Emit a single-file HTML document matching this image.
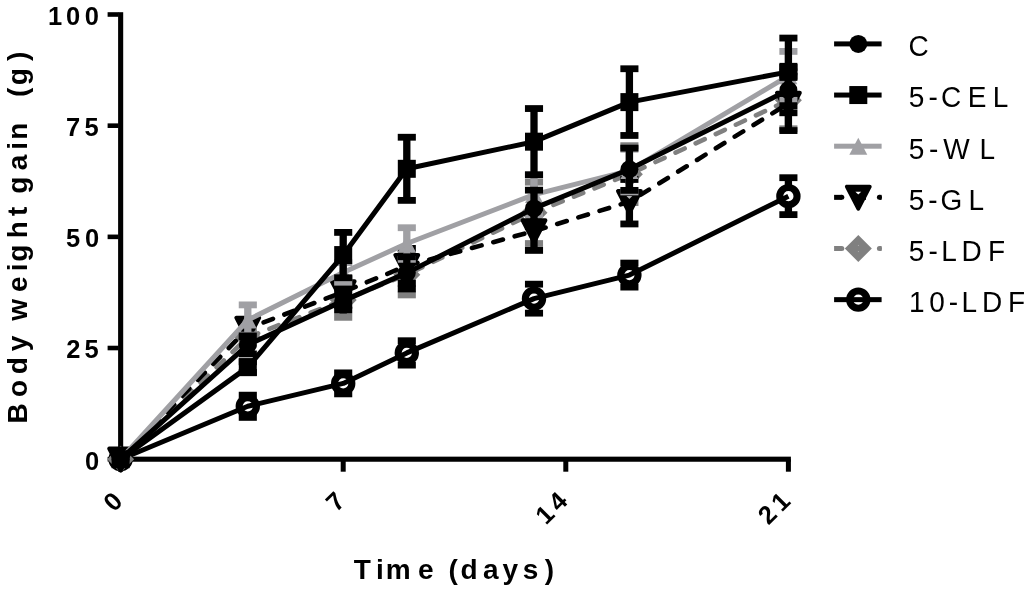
<!DOCTYPE html><html><head><meta charset="utf-8"><title>Body weight gain</title><style>html,body{margin:0;padding:0;background:#fff;overflow:hidden}svg{display:block}</style></head><body><svg width="1024" height="589" viewBox="0 0 1024 589"><rect width="1024" height="589" fill="#fff"/><rect x="118.1" y="12.2" width="5.1" height="449.55" fill="#000"/><rect x="118.1" y="456.65" width="672.8" height="5.1" fill="#000"/><rect x="107.6" y="456.9" width="11" height="4.6" fill="#000"/><rect x="107.6" y="345.72" width="11" height="4.6" fill="#000"/><rect x="107.6" y="234.55" width="11" height="4.6" fill="#000"/><rect x="107.6" y="123.38" width="11" height="4.6" fill="#000"/><rect x="107.6" y="12.2" width="11" height="4.6" fill="#000"/><rect x="118.1" y="459.2" width="5" height="12.5" fill="#000"/><rect x="340.7" y="459.2" width="5" height="12.5" fill="#000"/><rect x="563.3" y="459.2" width="5" height="12.5" fill="#000"/><rect x="785.9" y="459.2" width="5" height="12.5" fill="#000"/><g><rect x="244.15" y="395.16" width="7.3" height="22.23" fill="#000"/><rect x="238.75" y="391.76" width="18.1" height="6.8" fill="#000"/><rect x="238.75" y="414" width="18.1" height="6.8" fill="#000"/><rect x="339.55" y="372.88" width="7.3" height="20.99" fill="#000"/><rect x="334.15" y="369.48" width="18.1" height="6.8" fill="#000"/><rect x="334.15" y="390.47" width="18.1" height="6.8" fill="#000"/><rect x="403.15" y="340.73" width="7.3" height="24.37" fill="#000"/><rect x="397.75" y="337.33" width="18.1" height="6.8" fill="#000"/><rect x="397.75" y="361.7" width="18.1" height="6.8" fill="#000"/><rect x="530.35" y="284.17" width="7.3" height="28.99" fill="#000"/><rect x="524.95" y="280.77" width="18.1" height="6.8" fill="#000"/><rect x="524.95" y="309.76" width="18.1" height="6.8" fill="#000"/><rect x="625.75" y="263.09" width="7.3" height="24.01" fill="#000"/><rect x="620.35" y="259.69" width="18.1" height="6.8" fill="#000"/><rect x="620.35" y="283.7" width="18.1" height="6.8" fill="#000"/><rect x="784.75" y="177.7" width="7.3" height="36.91" fill="#000"/><rect x="779.35" y="174.3" width="18.1" height="6.8" fill="#000"/><rect x="779.35" y="211.22" width="18.1" height="6.8" fill="#000"/><circle cx="120.6" cy="459.2" r="8.65" fill="#fff" stroke="#000" stroke-width="7.1"/><circle cx="247.8" cy="406.28" r="8.65" fill="#fff" stroke="#000" stroke-width="7.1"/><circle cx="343.2" cy="383.38" r="8.65" fill="#fff" stroke="#000" stroke-width="7.1"/><circle cx="406.8" cy="352.92" r="8.65" fill="#fff" stroke="#000" stroke-width="7.1"/><circle cx="534" cy="298.66" r="8.65" fill="#fff" stroke="#000" stroke-width="7.1"/><circle cx="629.4" cy="275.09" r="8.65" fill="#fff" stroke="#000" stroke-width="7.1"/><circle cx="788.4" cy="196.16" r="8.65" fill="#fff" stroke="#000" stroke-width="7.1"/><polyline points="120.6,459.2 247.8,406.28 343.2,383.38 406.8,352.92 534,298.66 629.4,275.09 788.4,196.16" fill="none" stroke="#000" stroke-width="5.0" stroke-linejoin="round"/></g><g><rect x="244.15" y="330.68" width="7.3" height="13.34" fill="#808080"/><rect x="238.75" y="327.28" width="18.1" height="6.8" fill="#808080"/><rect x="238.75" y="340.62" width="18.1" height="6.8" fill="#808080"/><rect x="339.55" y="282.65" width="7.3" height="34.69" fill="#808080"/><rect x="334.15" y="279.25" width="18.1" height="6.8" fill="#808080"/><rect x="334.15" y="313.94" width="18.1" height="6.8" fill="#808080"/><rect x="403.15" y="254.37" width="7.3" height="40.56" fill="#808080"/><rect x="397.75" y="250.97" width="18.1" height="6.8" fill="#808080"/><rect x="397.75" y="291.53" width="18.1" height="6.8" fill="#808080"/><rect x="530.35" y="182.15" width="7.3" height="61.37" fill="#808080"/><rect x="524.95" y="178.75" width="18.1" height="6.8" fill="#808080"/><rect x="524.95" y="240.12" width="18.1" height="6.8" fill="#808080"/><rect x="625.75" y="145.69" width="7.3" height="56.92" fill="#808080"/><rect x="620.35" y="142.29" width="18.1" height="6.8" fill="#808080"/><rect x="620.35" y="199.21" width="18.1" height="6.8" fill="#808080"/><rect x="784.75" y="71.87" width="7.3" height="56.92" fill="#808080"/><rect x="779.35" y="68.47" width="18.1" height="6.8" fill="#808080"/><rect x="779.35" y="125.39" width="18.1" height="6.8" fill="#808080"/><path d="M107.1 459.2L120.6 445.7L134.1 459.2L120.6 472.7Z" fill="#808080"/><path d="M119.4 459.2L120.6 455.4L121.8 459.2L120.6 463Z" fill="#fff" fill-opacity="0.6"/><path d="M234.3 337.35L247.8 323.85L261.3 337.35L247.8 350.85Z" fill="#808080"/><path d="M246.6 337.35L247.8 333.55L249 337.35L247.8 341.15Z" fill="#fff" fill-opacity="0.6"/><path d="M329.7 300L343.2 286.5L356.7 300L343.2 313.5Z" fill="#808080"/><path d="M342 300L343.2 296.2L344.4 300L343.2 303.8Z" fill="#fff" fill-opacity="0.6"/><path d="M393.3 274.65L406.8 261.15L420.3 274.65L406.8 288.15Z" fill="#808080"/><path d="M405.6 274.65L406.8 270.85L408 274.65L406.8 278.45Z" fill="#fff" fill-opacity="0.6"/><path d="M520.5 212.84L534 199.34L547.5 212.84L534 226.34Z" fill="#808080"/><path d="M532.8 212.84L534 209.04L535.2 212.84L534 216.64Z" fill="#fff" fill-opacity="0.6"/><path d="M615.9 174.15L629.4 160.65L642.9 174.15L629.4 187.65Z" fill="#808080"/><path d="M628.2 174.15L629.4 170.35L630.6 174.15L629.4 177.95Z" fill="#fff" fill-opacity="0.6"/><path d="M774.9 100.33L788.4 86.83L801.9 100.33L788.4 113.83Z" fill="#808080"/><path d="M787.2 100.33L788.4 96.53L789.6 100.33L788.4 104.13Z" fill="#fff" fill-opacity="0.6"/><polyline points="120.6,459.2 247.8,337.35 343.2,300 406.8,274.65 534,212.84 629.4,174.15 788.4,100.33" fill="none" stroke="#808080" stroke-width="4.6" stroke-linejoin="round" stroke-dasharray="10 12.15" stroke-linecap="round"/></g><g><rect x="244.15" y="320.01" width="7.3" height="16.9" fill="#000"/><rect x="238.75" y="316.61" width="18.1" height="6.8" fill="#000"/><rect x="238.75" y="333.51" width="18.1" height="6.8" fill="#000"/><rect x="339.55" y="278.65" width="7.3" height="26.68" fill="#000"/><rect x="334.15" y="275.25" width="18.1" height="6.8" fill="#000"/><rect x="334.15" y="301.93" width="18.1" height="6.8" fill="#000"/><rect x="403.15" y="248.41" width="7.3" height="34.69" fill="#000"/><rect x="397.75" y="245.01" width="18.1" height="6.8" fill="#000"/><rect x="397.75" y="279.7" width="18.1" height="6.8" fill="#000"/><rect x="530.35" y="211.72" width="7.3" height="38.69" fill="#000"/><rect x="524.95" y="208.32" width="18.1" height="6.8" fill="#000"/><rect x="524.95" y="247.01" width="18.1" height="6.8" fill="#000"/><rect x="625.75" y="179.48" width="7.3" height="44.47" fill="#000"/><rect x="620.35" y="176.08" width="18.1" height="6.8" fill="#000"/><rect x="620.35" y="220.55" width="18.1" height="6.8" fill="#000"/><rect x="784.75" y="76.31" width="7.3" height="54.25" fill="#000"/><rect x="779.35" y="72.91" width="18.1" height="6.8" fill="#000"/><rect x="779.35" y="127.17" width="18.1" height="6.8" fill="#000"/><path d="M109.2 448.5L132 448.5L120.6 470.5Z" fill="#000" stroke="#000" stroke-width="4" stroke-linejoin="round"/><path d="M236.4 317.76L259.2 317.76L247.8 339.76Z" fill="#000" stroke="#000" stroke-width="4" stroke-linejoin="round"/><path d="M331.8 281.29L354.6 281.29L343.2 303.29Z" fill="#000" stroke="#000" stroke-width="4" stroke-linejoin="round"/><path d="M395.4 255.06L418.2 255.06L406.8 277.06Z" fill="#000" stroke="#000" stroke-width="4" stroke-linejoin="round"/><path d="M522.6 220.37L545.4 220.37L534 242.37Z" fill="#000" stroke="#000" stroke-width="4" stroke-linejoin="round"/><path d="M531.1 225.47L536.9 225.47L534 228.27Z" fill="#8c8c8c"/><path d="M618 191.02L640.8 191.02L629.4 213.02Z" fill="#000" stroke="#000" stroke-width="4" stroke-linejoin="round"/><path d="M626.5 196.12L632.3 196.12L629.4 198.92Z" fill="#b4b4b6"/><path d="M777 92.74L799.8 92.74L788.4 114.74Z" fill="#000" stroke="#000" stroke-width="4" stroke-linejoin="round"/><polyline points="120.6,459.2 247.8,328.46 343.2,291.99 406.8,265.76 534,231.07 629.4,201.72 788.4,103.44" fill="none" stroke="#000" stroke-width="4.6" stroke-linejoin="round" stroke-dasharray="10 12.15" stroke-linecap="round"/></g><g><rect x="244.15" y="304.89" width="7.3" height="30.24" fill="#a0a0a4"/><rect x="238.75" y="301.49" width="18.1" height="6.8" fill="#a0a0a4"/><rect x="238.75" y="331.73" width="18.1" height="6.8" fill="#a0a0a4"/><rect x="339.55" y="262.64" width="7.3" height="19.57" fill="#a0a0a4"/><rect x="334.15" y="259.24" width="18.1" height="6.8" fill="#a0a0a4"/><rect x="334.15" y="278.81" width="18.1" height="6.8" fill="#a0a0a4"/><rect x="403.15" y="227.73" width="7.3" height="31.57" fill="#a0a0a4"/><rect x="397.75" y="224.33" width="18.1" height="6.8" fill="#a0a0a4"/><rect x="397.75" y="255.91" width="18.1" height="6.8" fill="#a0a0a4"/><rect x="530.35" y="174.59" width="7.3" height="40.02" fill="#a0a0a4"/><rect x="524.95" y="171.19" width="18.1" height="6.8" fill="#a0a0a4"/><rect x="524.95" y="211.22" width="18.1" height="6.8" fill="#a0a0a4"/><rect x="625.75" y="149.24" width="7.3" height="42.69" fill="#a0a0a4"/><rect x="620.35" y="145.84" width="18.1" height="6.8" fill="#a0a0a4"/><rect x="620.35" y="188.54" width="18.1" height="6.8" fill="#a0a0a4"/><rect x="784.75" y="51.41" width="7.3" height="48.92" fill="#a0a0a4"/><rect x="779.35" y="48.01" width="18.1" height="6.8" fill="#a0a0a4"/><rect x="779.35" y="96.93" width="18.1" height="6.8" fill="#a0a0a4"/><path d="M111.6 467.7L129.6 467.7L120.6 450.7Z" fill="#a0a0a4"/><path d="M238.8 328.51L256.8 328.51L247.8 311.51Z" fill="#a0a0a4"/><path d="M334.2 280.93L352.2 280.93L343.2 263.93Z" fill="#a0a0a4"/><path d="M397.8 252.02L415.8 252.02L406.8 235.02Z" fill="#a0a0a4"/><path d="M525 203.1L543 203.1L534 186.1Z" fill="#a0a0a4"/><path d="M620.4 179.09L638.4 179.09L629.4 162.09Z" fill="#a0a0a4"/><path d="M779.4 84.37L797.4 84.37L788.4 67.37Z" fill="#a0a0a4"/><polyline points="120.6,459.2 247.8,320.01 343.2,272.43 406.8,243.52 534,194.6 629.4,170.59 788.4,75.87" fill="none" stroke="#a0a0a4" stroke-width="5.0" stroke-linejoin="round"/></g><g><rect x="244.15" y="361.81" width="7.3" height="10.67" fill="#000"/><rect x="238.75" y="358.41" width="18.1" height="6.8" fill="#000"/><rect x="238.75" y="369.08" width="18.1" height="6.8" fill="#000"/><rect x="339.55" y="232.4" width="7.3" height="45.36" fill="#000"/><rect x="334.15" y="229" width="18.1" height="6.8" fill="#000"/><rect x="334.15" y="274.36" width="18.1" height="6.8" fill="#000"/><rect x="403.15" y="137.24" width="7.3" height="63.15" fill="#000"/><rect x="397.75" y="133.84" width="18.1" height="6.8" fill="#000"/><rect x="397.75" y="196.98" width="18.1" height="6.8" fill="#000"/><rect x="530.35" y="108.55" width="7.3" height="66.26" fill="#000"/><rect x="524.95" y="105.15" width="18.1" height="6.8" fill="#000"/><rect x="524.95" y="171.41" width="18.1" height="6.8" fill="#000"/><rect x="625.75" y="68.75" width="7.3" height="66.7" fill="#000"/><rect x="620.35" y="65.35" width="18.1" height="6.8" fill="#000"/><rect x="620.35" y="132.06" width="18.1" height="6.8" fill="#000"/><rect x="784.75" y="38.07" width="7.3" height="67.59" fill="#000"/><rect x="779.35" y="34.67" width="18.1" height="6.8" fill="#000"/><rect x="779.35" y="102.26" width="18.1" height="6.8" fill="#000"/><rect x="111.6" y="450.2" width="18" height="18" fill="#000"/><rect x="238.8" y="358.15" width="18" height="18" fill="#000"/><rect x="334.2" y="246.08" width="18" height="18" fill="#000"/><rect x="397.8" y="159.81" width="18" height="18" fill="#000"/><rect x="525" y="132.68" width="18" height="18" fill="#000"/><rect x="620.4" y="93.11" width="18" height="18" fill="#000"/><rect x="779.4" y="62.87" width="18" height="18" fill="#000"/><polyline points="120.6,459.2 247.8,367.15 343.2,255.08 406.8,168.81 534,141.68 629.4,102.11 788.4,71.87" fill="none" stroke="#000" stroke-width="5.0" stroke-linejoin="round"/></g><g><rect x="244.15" y="335.88" width="7.3" height="18.05" fill="#000"/><rect x="238.75" y="332.48" width="18.1" height="6.8" fill="#000"/><rect x="238.75" y="350.54" width="18.1" height="6.8" fill="#000"/><rect x="339.55" y="291.59" width="7.3" height="18.59" fill="#000"/><rect x="334.15" y="288.19" width="18.1" height="6.8" fill="#000"/><rect x="334.15" y="306.78" width="18.1" height="6.8" fill="#000"/><rect x="403.15" y="256.77" width="7.3" height="32.2" fill="#000"/><rect x="397.75" y="253.37" width="18.1" height="6.8" fill="#000"/><rect x="397.75" y="285.57" width="18.1" height="6.8" fill="#000"/><rect x="530.35" y="190.16" width="7.3" height="36.47" fill="#000"/><rect x="524.95" y="186.76" width="18.1" height="6.8" fill="#000"/><rect x="524.95" y="223.22" width="18.1" height="6.8" fill="#000"/><rect x="625.75" y="148.13" width="7.3" height="42.25" fill="#000"/><rect x="620.35" y="144.73" width="18.1" height="6.8" fill="#000"/><rect x="620.35" y="186.98" width="18.1" height="6.8" fill="#000"/><rect x="784.75" y="67.42" width="7.3" height="45.36" fill="#000"/><rect x="779.35" y="64.02" width="18.1" height="6.8" fill="#000"/><rect x="779.35" y="109.38" width="18.1" height="6.8" fill="#000"/><circle cx="120.6" cy="459.2" r="9" fill="#000"/><circle cx="247.8" cy="344.91" r="9" fill="#000"/><circle cx="343.2" cy="300.89" r="9" fill="#000"/><circle cx="406.8" cy="272.87" r="9" fill="#000"/><circle cx="534" cy="208.39" r="9" fill="#000"/><circle cx="629.4" cy="169.26" r="9" fill="#000"/><circle cx="788.4" cy="90.1" r="9" fill="#000"/><polyline points="120.6,459.2 247.8,344.91 343.2,300.89 406.8,272.87 534,208.39 629.4,169.26 788.4,90.1" fill="none" stroke="#000" stroke-width="5.0" stroke-linejoin="round"/></g><circle cx="858.3" cy="43.9" r="9" fill="#000"/><rect x="834.1" y="41.4" width="47.5" height="5" fill="#000"/><rect x="849.3" y="86.05" width="18" height="18" fill="#000"/><rect x="834.1" y="92.55" width="47.5" height="5" fill="#000"/><path d="M849.3 154.7L867.3 154.7L858.3 137.7Z" fill="#a0a0a4"/><rect x="834.1" y="143.7" width="47.5" height="5" fill="#a0a0a4"/><path d="M846.9 186.65L869.7 186.65L858.3 208.65Z" fill="#000" stroke="#000" stroke-width="4" stroke-linejoin="round"/><path d="M855.4 191.75L861.2 191.75L858.3 194.55Z" fill="#fff"/><rect x="834.1" y="194.85" width="7.7" height="5" fill="#000"/><circle cx="841.8" cy="197.35" r="2.5" fill="#000"/><rect x="879.4" y="194.85" width="2.2" height="5" fill="#000"/><circle cx="879.4" cy="197.35" r="2.5" fill="#000"/><line x1="853" y1="197.35" x2="866" y2="197.35" stroke="#000" stroke-width="5"/><path d="M844.8 248.5L858.3 235L871.8 248.5L858.3 262Z" fill="#808080"/><path d="M857.1 248.5L858.3 244.7L859.5 248.5L858.3 252.3Z" fill="#fff" fill-opacity="0.6"/><rect x="834.1" y="246" width="7.7" height="5" fill="#808080"/><circle cx="841.8" cy="248.5" r="2.5" fill="#808080"/><rect x="879.4" y="246" width="2.2" height="5" fill="#808080"/><circle cx="879.4" cy="248.5" r="2.5" fill="#808080"/><line x1="853" y1="248.5" x2="866" y2="248.5" stroke="#808080" stroke-width="5"/><circle cx="858.3" cy="299.65" r="8.65" fill="#fff" stroke="#000" stroke-width="7.1"/><rect x="834.1" y="297.15" width="47.5" height="5" fill="#000"/><text transform="translate(0 469.6) scale(1 1.03)" x="84.89" y="0" font-size="25.5" font-family="Liberation Sans, Arial, sans-serif" font-weight="700">0</text><text transform="translate(0 358.42) scale(1 1.03)" x="66.32 84.52" y="0" font-size="25.5" font-family="Liberation Sans, Arial, sans-serif" font-weight="700">25</text><text transform="translate(0 247.25) scale(1 1.03)" x="66.12 84.89" y="0" font-size="25.5" font-family="Liberation Sans, Arial, sans-serif" font-weight="700">50</text><text transform="translate(0 136.08) scale(1 1.03)" x="66.1 84.52" y="0" font-size="25.5" font-family="Liberation Sans, Arial, sans-serif" font-weight="700">75</text><text transform="translate(0 24.9) scale(1 1.03)" x="47.99 66.09 84.79" y="0" font-size="25.5" font-family="Liberation Sans, Arial, sans-serif" font-weight="700">100</text><text transform="translate(123.9 502.7) rotate(-45)" x="-14.18" y="0" font-size="25.5" font-family="Liberation Sans, Arial, sans-serif" font-weight="700">0</text><text transform="translate(346.5 502.7) rotate(-45)" x="-14.18" y="0" font-size="25.5" font-family="Liberation Sans, Arial, sans-serif" font-weight="700">7</text><text transform="translate(569.1 502.7) rotate(-45)" x="-32.67 -14.18" y="0" font-size="25.5" font-family="Liberation Sans, Arial, sans-serif" font-weight="700">14</text><text transform="translate(791.7 502.7) rotate(-45)" x="-32.67 -14.18" y="0" font-size="25.5" font-family="Liberation Sans, Arial, sans-serif" font-weight="700">21</text><text x="353.69 376.04 385.65 418.11 433.68 448.61 460.55 483.08 502.48 522.82 544.87" y="579.3" font-size="28" font-family="Liberation Sans, Arial, sans-serif" font-weight="700">Time (days)</text><text transform="translate(27.2 0) rotate(-90)" x="-423.57 -397.09 -374.25 -351.22 -335.65 -320.72 -291.89 -271.16 -261.65 -238.36 -215.94 -206.62 -193.75 -170.32 -149.86 -139.85 -122.74 -96.89 -85.15 -60.93" y="0" font-size="28" font-family="Liberation Sans, Arial, sans-serif" font-weight="700">Body weight gain (g)</text><text transform="translate(0 56.2) scale(1 1.04)" x="908.48" y="0" font-size="28" font-family="Liberation Sans, Arial, sans-serif">C</text><text transform="translate(0 107.35) scale(1 1.04)" x="908.78 928.46 940.98 967.7 992.8" y="0" font-size="28" font-family="Liberation Sans, Arial, sans-serif">5-CEL</text><text transform="translate(0 158.5) scale(1 1.04)" x="908.78 929.06 943.28 979.4" y="0" font-size="28" font-family="Liberation Sans, Arial, sans-serif">5-WL</text><text transform="translate(0 209.65) scale(1 1.04)" x="908.78 928.16 940.39 968.5" y="0" font-size="28" font-family="Liberation Sans, Arial, sans-serif">5-GL</text><text transform="translate(0 260.8) scale(1 1.04)" x="908.78 928.46 941.3 961.5 987.9" y="0" font-size="28" font-family="Liberation Sans, Arial, sans-serif">5-LDF</text><text transform="translate(0 311.95) scale(1 1.04)" x="908.97 929.21 948.76 961.5 981.9 1007.9" y="0" font-size="28" font-family="Liberation Sans, Arial, sans-serif">10-LDF</text></svg></body></html>
